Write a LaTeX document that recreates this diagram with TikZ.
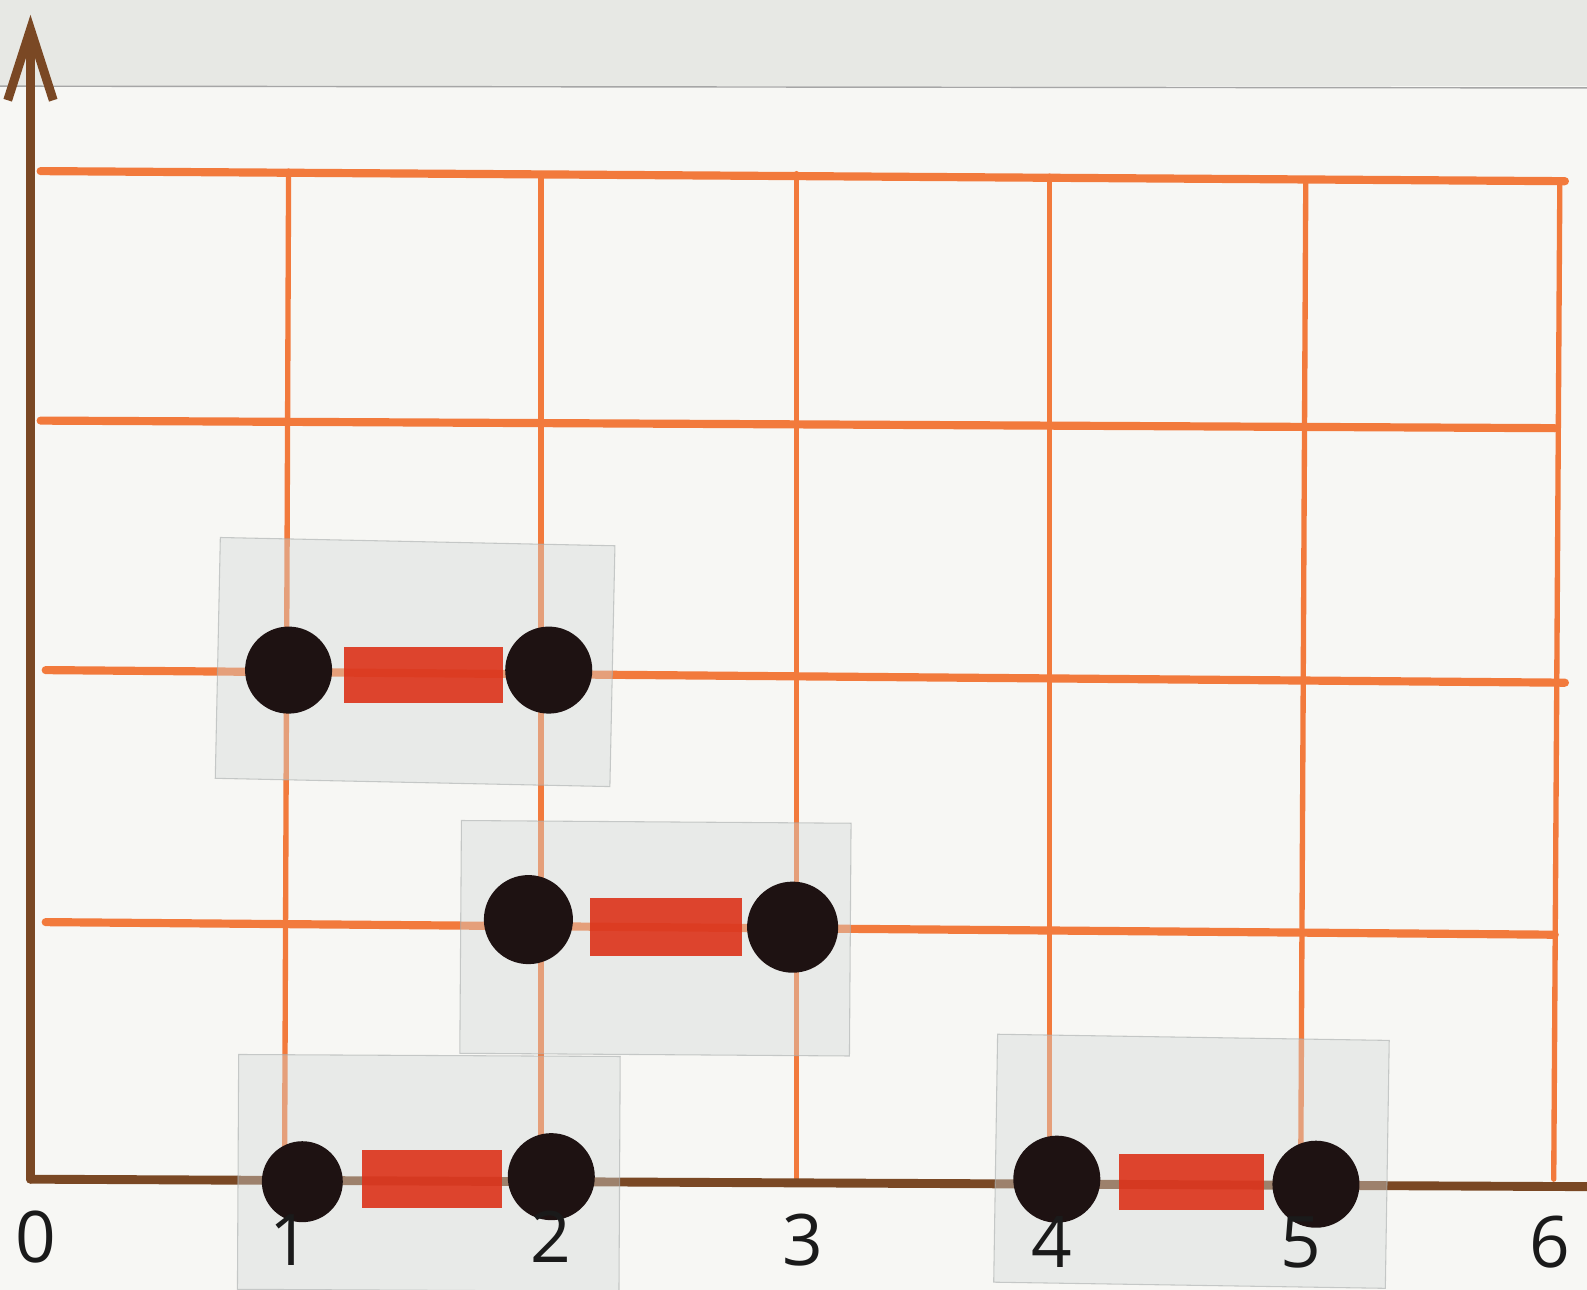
\documentclass[tikz,border=0pt]{standalone}
\usepackage{fontspec}
\setsansfont{Open Sans}
\usepackage{tikz}
\usetikzlibrary{arrows.meta}
\definecolor{PaperBG}{HTML}{F7F7F4}
\definecolor{EdgeBand}{HTML}{E7E8E4}
\definecolor{GridOrange}{HTML}{F27A3C}
\definecolor{AxisBrown}{HTML}{7A4824}
\definecolor{DotBlack}{HTML}{1E1212}
\definecolor{BarRed}{HTML}{DC3219}
\definecolor{SheetGrey}{HTML}{D3D8D8}
\definecolor{InkCol}{HTML}{1A1A1A}

\begin{document}
\begin{tikzpicture}[x=2.51cm, y=2.49cm,
    every node/.style={font=\sffamily\fontsize{20}{24}\selectfont, InkCol},
    gridline/.style={GridOrange, line width=1.5pt, line cap=round},
    axisline/.style={AxisBrown, line width=2.5pt, line cap=round},
    sheet/.style={draw=SheetGrey!80!black, line width=0.3pt, fill=SheetGrey, fill opacity=0.4, draw opacity=0.6, minimum width=#1},
    bead/.style={circle, fill=DotBlack, minimum size=0.84cm, inner sep=0pt},
    bar/.style={rectangle, fill=BarRed, fill opacity=0.9, minimum height=0.55cm, minimum width=#1, inner sep=0pt}]
  \fill[PaperBG] (-0.12,-0.438) rectangle (6.127,4.679);
  \useasboundingbox (-0.12,-0.438) rectangle (6.127,4.679);
  \fill[EdgeBand] (-0.12,4.337) rectangle (6.127,4.679);
  \draw[gray!70, line width=0.4pt] (-0.12,4.337) -- (6.127,4.33);

  \coordinate (O) at (0,0);
  \coordinate (Ytop) at (0,4.62);
  \coordinate (Xend) at (6.2,-0.03);

  \draw[gridline, line width=2.3pt] (0.04,4.0) -- (6.04,3.96);
  \draw[gridline, line width=2.3pt] (0.04,3.01) -- (6.0,2.98);
  \draw[gridline, line width=2.3pt] (0.06,2.02) -- (6.04,1.97);
  \draw[gridline, line width=2.3pt] (0.06,1.02) -- (6.0,0.97);
  \draw[gridline] (1.016,4.0) -- (1.0,0.0);
  \draw[gridline] (2.01,3.99) -- (2.01,0.0);
  \draw[gridline] (3.016,3.99) -- (3.016,0.0);
  \draw[gridline] (4.012,3.98) -- (4.012,0.0);
  \draw[gridline] (5.02,3.97) -- (5.0,0.0);
  \draw[gridline] (6.02,3.96) -- (5.996,0.0);

  \draw[axisline] (O) -- (Xend);
  \draw[axisline, -{Straight Barb[length=0.7cm, width=0.45cm]}] (O) -- (Ytop);

  \node[sheet=3.9cm, minimum height=2.38cm, rotate=-1.2] (TA) at (1.514,2.052) {};
  \node[sheet=3.85cm, minimum height=2.3cm, rotate=-0.4] (TB) at (2.46,0.956) {};
  \node[sheet=3.77cm, minimum height=2.32cm, rotate=-0.3] (TC) at (1.568,0.025) {};
  \node[sheet=3.87cm, minimum height=2.45cm, rotate=-0.9] (TD) at (4.57,0.071) {};

  \node[bar=1.57cm] (barA) at (1.546,2.0) {};
  \node[bead, minimum size=0.86cm] (A1) at (1.016,2.02) {};
  \node[bead, minimum size=0.86cm] (A2) at (2.04,2.02) {};

  \node[bar=1.5cm, minimum height=0.57cm] (barB) at (2.5,1.0) {};
  \node[bead, minimum size=0.88cm] (B1) at (1.96,1.03) {};
  \node[bead, minimum size=0.9cm] (B2) at (3.0,1.0) {};

  \node[bar=1.39cm, minimum height=0.57cm] (barC) at (1.58,0.0) {};
  \node[bead, minimum size=0.8cm] (C1) at (1.07,-0.01) {};
  \node[bead, minimum size=0.86cm] (C2) at (2.05,0.01) {};

  \node[bar=1.43cm, minimum height=0.55cm] (barD) at (4.57,-0.01) {};
  \node[bead, minimum size=0.86cm] (D1) at (4.04,0.0) {};
  \node[bead, minimum size=0.86cm] (D2) at (5.06,-0.02) {};

  \node (L0) at (0.02,-0.23) {0};
  \node (L1) at (1.02,-0.24) {1};
  \node (L2) at (2.05,-0.23) {2};
  \node (L3) at (3.04,-0.24) {3};
  \node (L4) at (4.02,-0.25) {4};
  \node (L5) at (5.0,-0.25) {5};
  \node (L6) at (5.98,-0.25) {6};
\end{tikzpicture}
\end{document}
